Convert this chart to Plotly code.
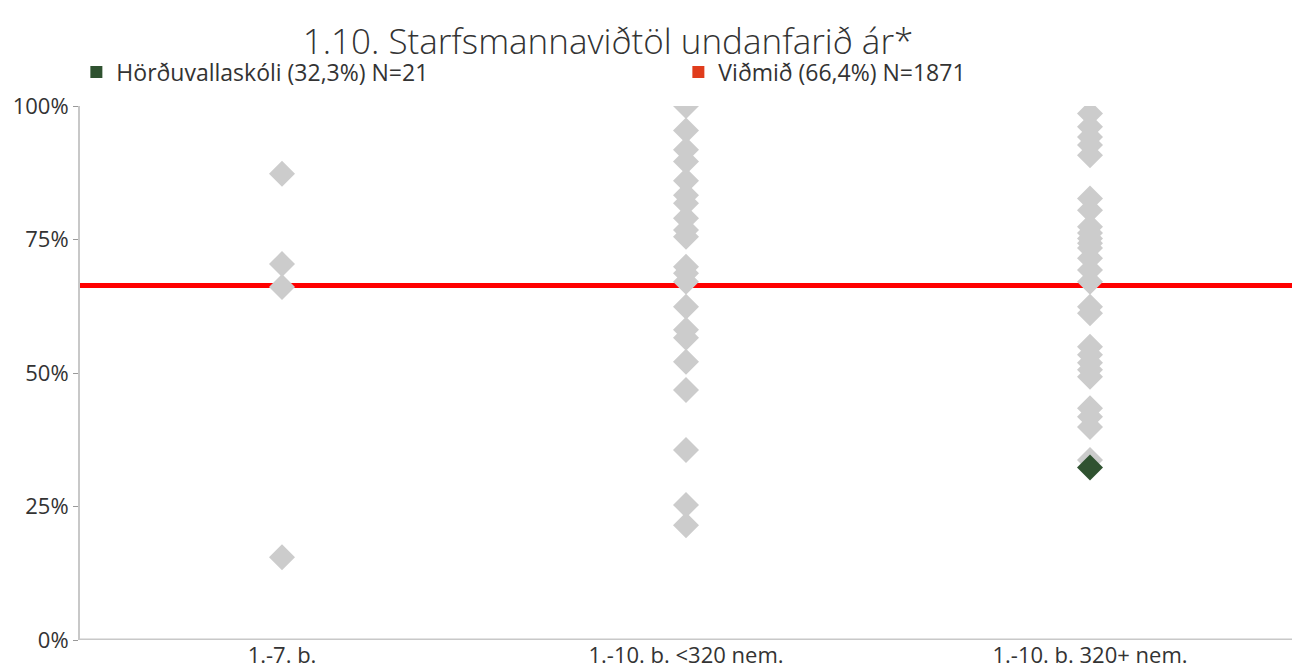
import plotly.graph_objects as go

categories = ["1.-7. b.", "1.-10. b. <320 nem.", "1.-10. b. 320+ nem."]

group1_values = [87.3, 70.4, 66.1, 15.5]
group2_values = [100.0, 95.4, 91.8, 89.6, 86.0, 83.3, 81.8, 79.0, 76.8, 75.5,
                 69.9, 68.7, 67.1, 62.4, 58.1, 56.6, 52.1, 46.8, 35.6, 25.3, 21.5]
group3_values = [98.6, 96.1, 94.2, 92.7, 90.8, 82.7, 80.5, 77.4, 76.2, 75.2,
                 74.3, 73.4, 71.5, 69.3, 67.1, 62.4, 61.2, 54.9, 53.4, 51.9,
                 50.6, 49.3, 43.4, 41.8, 39.9, 33.7]

school_name = "Hörðuvallaskóli (32,3%) N=21"
school_category = "1.-10. b. 320+ nem."
school_value = 32.3

benchmark_name = "Viðmið (66,4%) N=1871"
benchmark_value = 66.4

title_text = "1.10. Starfsmannaviðtöl undanfarið ár*"
ytick_vals = [0, 0.25, 0.5, 0.75, 1.0]
ytick_text = ["0%", "25%", "50%", "75%", "100%"]

GRAY = "#cccccc"
GREEN = "#2f5230"
LEGEND_RED = "#e03c1c"
LINE_RED = "#ff0000"
FONT = "Open Sans"
TEXT = "#333333"

W, H = 1304, 671
L, T, PW, PH = 72, 98, 1212, 534   # plot area in figure pixels

fig = go.Figure()

idx = {c: i for i, c in enumerate(categories)}

# benchmark line (drawn first, under the markers)
fig.add_trace(go.Scatter(
    x=[-0.5, len(categories) - 0.5], y=[benchmark_value / 100] * 2,
    mode="lines", line=dict(color=LINE_RED, width=5),
    showlegend=False, hoverinfo="skip",
))

all_groups = [group1_values, group2_values, group3_values]
for i, vals in enumerate(all_groups):
    fig.add_trace(go.Scatter(
        x=[i] * len(vals), y=[v / 100 for v in vals],
        mode="markers",
        marker=dict(symbol="diamond", size=20, color=GRAY, line=dict(width=0)),
        showlegend=False,
    ))

fig.add_trace(go.Scatter(
    x=[idx[school_category]], y=[school_value / 100],
    mode="markers",
    marker=dict(symbol="diamond", size=20, color=GREEN, line=dict(width=0)),
    showlegend=False,
))

# legend entries
fig.add_trace(go.Scatter(
    x=[None], y=[None], mode="markers", name=school_name,
    marker=dict(symbol="square", size=16, color=GREEN),
))
fig.add_trace(go.Scatter(
    x=[None], y=[None], mode="markers", name=benchmark_name,
    marker=dict(symbol="square", size=16, color=LEGEND_RED),
))

fig.update_layout(
    width=W, height=H,
    margin=dict(l=L, r=W - L - PW, t=T, b=H - T - PH, autoexpand=False),
    paper_bgcolor="white", plot_bgcolor="white",
    font=dict(family=FONT, color=TEXT, size=22),
    title=dict(
        text=title_text, xref="paper", x=(600 - L) / PW, xanchor="center",
        yref="container", y=1 - 34 / H, yanchor="middle",
        font=dict(family=FONT, size=35, color=TEXT, weight=300),
    ),
    legend=dict(
        orientation="h", x=-0.003, xanchor="left",
        y=1 + (T - 64) / PH, yanchor="middle",
        font=dict(family=FONT, size=23, color=TEXT),
        entrywidth=557, entrywidthmode="pixels",
        itemsizing="constant", bgcolor="rgba(0,0,0,0)",
    ),
    xaxis=dict(
        range=[-0.5, len(categories) - 0.5],
        tickvals=list(range(len(categories))), ticktext=categories,
        showgrid=False, zeroline=False, showline=False,
        ticks="", tickfont=dict(size=22, color=TEXT),
        fixedrange=True, automargin=False,
    ),
    yaxis=dict(
        range=[0, 1], tickvals=ytick_vals, ticktext=ytick_text,
        showgrid=False, zeroline=False,
        showline=True, linecolor="#c8c8c8", linewidth=2,
        ticks="outside", ticklen=5, tickcolor="#999999", tickwidth=1,
        tickfont=dict(size=22, color=TEXT),
        fixedrange=True, automargin=False,
    ),
    shapes=[dict(type="line", xref="paper", yref="y", x0=0, x1=1, y0=0, y1=0,
                 line=dict(color="#c8c8c8", width=3), layer="below")],
)

fig.write_html("out.html")
